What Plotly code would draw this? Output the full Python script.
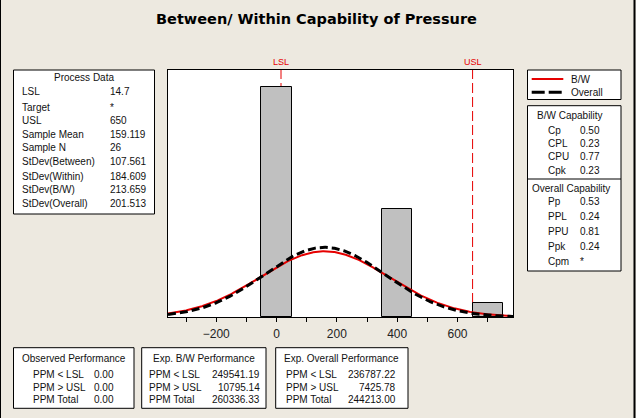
import numpy as np
import plotly.graph_objects as go

# ---------------- data ----------------
bin_centers = [0, 400, 700]
bin_counts = [17, 8, 1]
bin_width = 100

lsl = 14.7
usl = 650
sample_mean = 159.119
sample_n = 26
sd_bw = 213.659
sd_overall = 201.513

process_labels = ["LSL", "Target", "USL", "Sample Mean", "Sample N", "StDev(Between)",
                  "StDev(Within)", "StDev(B/W)", "StDev(Overall)"]
process_values = ["14.7", "*", "650", "159.119", "26", "107.561", "184.609", "213.659", "201.513"]

bw_cap_labels = ["Cp", "CPL", "CPU", "Cpk"]
bw_cap_values = ["0.50", "0.23", "0.77", "0.23"]
ov_cap_labels = ["Pp", "PPL", "PPU", "Ppk", "Cpm"]
ov_cap_values = ["0.53", "0.24", "0.81", "0.24", "*"]

perf_labels = ["PPM < LSL", "PPM > USL", "PPM Total"]
obs_perf = ["0.00", "0.00", "0.00"]
bw_perf = ["249541.19", "10795.14", "260336.33"]
ov_perf = ["236787.22", "7425.78", "244213.00"]

x_range = [-360, 784]
y_range = [0, 18.25]

# ---------------- layout helpers ----------------
W, H = 636, 418
ML, MR, MT, MB = 168, 123, 70, 101
PW, PH = W - ML - MR, H - MT - MB


def px(x):
    return (x - ML) / PW


def py(y):
    return (H - MB - y) / PH


BG = "#EDE9E0"
RED = "#E60000"
TXT = "#111111"
FONT = "Liberation Sans, Arial, sans-serif"


def normal_pdf(x, m, s):
    return np.exp(-0.5 * ((x - m) / s) ** 2) / (s * np.sqrt(2 * np.pi))


xs = np.linspace(x_range[0], x_range[1], 500)
scale = sample_n * bin_width

fig = go.Figure()
fig.add_trace(go.Bar(x=bin_centers, y=bin_counts, width=bin_width,
                     marker=dict(color="#C0C0C0", line=dict(color="black", width=1)),
                     showlegend=False, hoverinfo="skip"))
fig.add_trace(go.Scatter(x=xs, y=scale * normal_pdf(xs, sample_mean, sd_bw), mode="lines",
                         line=dict(color=RED, width=2), name="B/W", showlegend=False))
fig.add_trace(go.Scatter(x=xs, y=scale * normal_pdf(xs, sample_mean, sd_overall), mode="lines",
                         line=dict(color="black", width=3, dash="8px,4px"), name="Overall",
                         showlegend=False))

shapes = []
annotations = []

# spec lines
for v, lab in [(lsl, "LSL"), (usl, "USL")]:
    shapes.append(dict(type="line", xref="x", yref="paper", x0=v, x1=v, y0=0, y1=1,
                       line=dict(color=RED, width=1, dash="10px,4px"), layer="below"))
    annotations.append(dict(x=v, xref="x", y=py(62), yref="paper", text=lab, showarrow=False,
                            font=dict(family=FONT, size=9, color=RED),
                            xanchor="center", yanchor="middle"))


def box(x0, y0, x1, y1):
    shapes.append(dict(type="rect", xref="paper", yref="paper", x0=px(x0), x1=px(x1),
                       y0=py(y1), y1=py(y0), line=dict(color="black", width=1),
                       fillcolor="white", layer="below"))


def text(x, y, s, anchor="left", size=10):
    annotations.append(dict(x=px(x), y=py(y), xref="paper", yref="paper", text=s,
                            showarrow=False, xanchor=anchor, yanchor="middle",
                            font=dict(family=FONT, size=size, color=TXT)))


# Process data box
box(13.5, 70, 154.5, 214)
text(83.5, 77.5, "Process Data", "center")
proc_y = [91.7, 107.7, 120.7, 134, 147.7, 161, 176, 189.3, 203.3]
for lab, val, yy in zip(process_labels, process_values, proc_y):
    text(20, yy, lab)
    text(108.3, yy, val)

# Legend box
box(527.5, 70, 621, 99.5)
shapes.append(dict(type="line", xref="paper", yref="paper", x0=px(531.7), x1=px(563.3),
                   y0=py(79), y1=py(79), line=dict(color=RED, width=2)))
shapes.append(dict(type="line", xref="paper", yref="paper", x0=px(531.7), x1=px(563.3),
                   y0=py(92.3), y1=py(92.3), line=dict(color="black", width=3, dash="13px,4px")))
text(569, 79, "B/W")
text(569, 92.3, "Overall")

# Capability box
box(527.5, 105.7, 621, 271)
shapes.append(dict(type="line", xref="paper", yref="paper", x0=px(527.5), x1=px(621),
                   y0=py(179), y1=py(179), line=dict(color="black", width=1)))
text(570, 115, "B/W Capability", "center")
for lab, val, yy in zip(bw_cap_labels, bw_cap_values, [130, 143.3, 156.7, 170]):
    text(546, yy, lab)
    text(578.3, yy, val)
text(571, 188.3, "Overall Capability", "center")
for lab, val, yy in zip(ov_cap_labels, ov_cap_values, [201.7, 216.7, 231.7, 246.7, 261.7]):
    text(546, yy, lab)
    text(578.3, yy, val)

# Performance boxes
perf_rows = [374.3, 387.3, 399.5]
perf_boxes = [
    (13.5, 134, "Observed Performance", obs_perf, 30.5, 115.5),
    (141.7, 266, "Exp. B/W Performance", bw_perf, 147.3, 261.7),
    (275.7, 408, "Exp. Overall Performance", ov_perf, 283.5, 398),
]
for x0, x1, title, vals, lx, rx in perf_boxes:
    box(x0, 347.7, x1, 408.3)
    text((x0 + x1) / 2, 358.5, title, "center")
    for lab, val, yy in zip(perf_labels, vals, perf_rows):
        text(lx, yy, lab)
        text(rx, yy, val, "right")

# window edge lines
shapes.append(dict(type="line", xref="paper", yref="paper", x0=px(0.5), x1=px(0.5),
                   y0=py(0), y1=py(H), line=dict(color="black", width=1)))
shapes.append(dict(type="line", xref="paper", yref="paper", x0=px(634.5), x1=px(634.5),
                   y0=py(0), y1=py(H), line=dict(color="black", width=2)))

# title
annotations.append(dict(x=px(316), y=py(18.5), xref="paper", yref="paper",
                        text="<b>Between/ Within Capability of Pressure</b>", showarrow=False,
                        xanchor="center", yanchor="middle",
                        font=dict(family="DejaVu Sans, sans-serif", size=14.5, color="black")))

fig.update_layout(
    width=W, height=H,
    margin=dict(l=ML, r=MR, t=MT, b=MB, pad=0),
    paper_bgcolor=BG, plot_bgcolor="white",
    shapes=shapes, annotations=annotations,
    bargap=0, showlegend=False,
)
fig.update_xaxes(range=x_range, tick0=0, dtick=200, ticks="outside", ticklen=4,
                 tickcolor="black", showgrid=False, zeroline=False,
                 showline=True, linecolor="black", linewidth=1, mirror=True,
                 ticklabelstandoff=2,
                 tickfont=dict(family=FONT, size=12, color="#222222"),
                 minor=dict(tick0=0, dtick=100, ticks="outside", ticklen=4, tickcolor="black",
                            showgrid=False))
fig.update_yaxes(range=y_range, showticklabels=False, ticks="", showgrid=False,
                 zeroline=False, showline=True, linecolor="black", linewidth=1, mirror=True)

fig.write_html("out.html")
